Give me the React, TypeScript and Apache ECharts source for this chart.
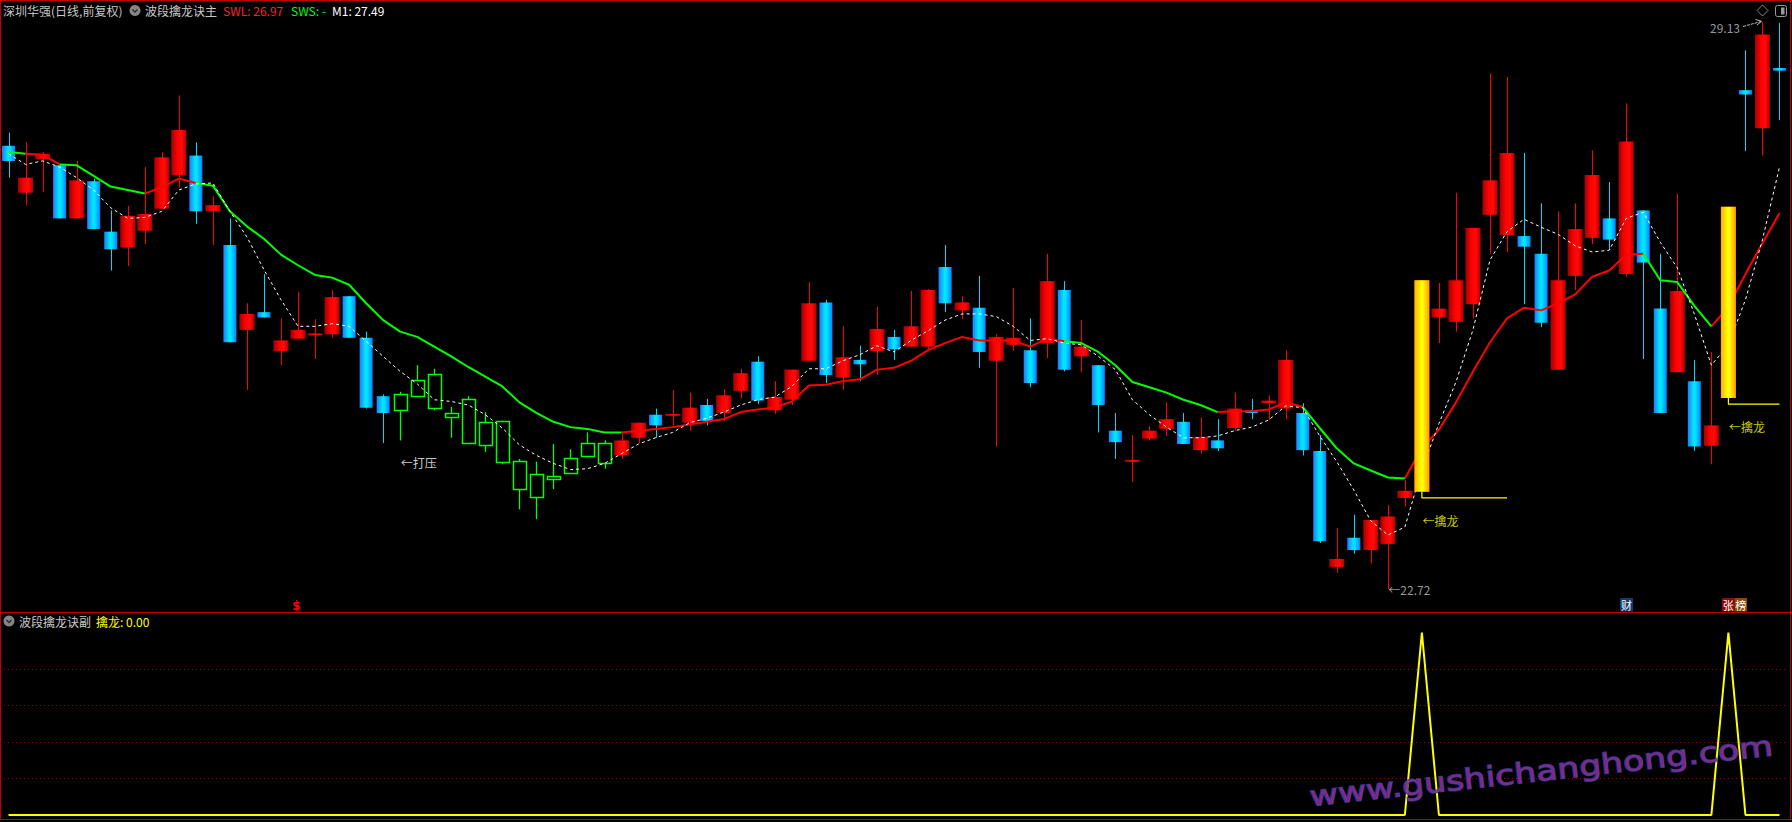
import React, { useEffect, useRef } from "react";
import * as echarts from "echarts";

// ---------- data ----------
const opens = [
  27.73, 27.2, 27.58, 27.51, 26.91, 27.33, 26.76, 26.58, 26.77, 27.02,
  27.4, 27.62, 26.99, 26.61, 25.65, 25.85, 25.41, 25.55, 25.59, 25.6,
  26.03, 25.56, 24.9, 24.74, 24.9, 24.77, 24.66, 24.37, 24.35, 24.16,
  23.85, 23.76, 23.97, 24.03, 24.22, 24.14, 24.23, 24.43, 24.69, 24.68,
  24.6, 24.8, 24.71, 24.96, 25.29, 24.74, 24.86, 25.3, 25.96, 25.11,
  25.31, 25.41, 25.57, 25.46, 25.46, 26.36, 25.87, 25.9, 25.3, 25.48,
  25.42, 25.5, 26.1, 25.35, 25.25, 24.51, 24.16, 24.42, 24.53, 24.61,
  24.29, 24.4, 24.54, 24.74, 24.82, 24.76, 24.71, 24.28, 22.97, 23.3,
  23.16, 23.23, 23.75, 23.82, 25.79, 25.74, 25.94, 26.95, 26.72, 26.71,
  26.51, 25.2, 26.26, 26.69, 26.91, 26.28, 27.0, 25.89, 25.17, 25.07,
  24.34, 24.88, 28.36, 27.93, 28.61,
];
const closes = [
  27.56, 27.37, 27.64, 26.91, 27.34, 26.79, 26.56, 26.94, 26.96, 27.6,
  27.91, 26.99, 27.06, 25.51, 25.83, 25.79, 25.53, 25.65, 25.61, 26.02,
  25.56, 24.77, 24.71, 24.92, 25.08, 25.15, 24.71, 24.87, 24.61, 24.62,
  24.17, 24.02, 24.0, 24.2, 24.37, 24.37, 24.4, 24.6, 24.57, 24.7,
  24.77, 24.62, 24.91, 25.16, 24.85, 24.89, 25.2, 25.95, 25.14, 25.34,
  25.26, 25.66, 25.43, 25.69, 26.1, 25.95, 25.96, 25.4, 25.57, 25.56,
  25.05, 26.2, 25.2, 25.46, 24.8, 24.38, 24.18, 24.51, 24.64, 24.36,
  24.44, 24.31, 24.76, 24.71, 24.85, 25.31, 24.29, 23.26, 23.06, 23.16,
  23.5, 23.54, 23.83, 26.21, 25.89, 26.21, 26.8, 27.34, 27.65, 26.59,
  25.73, 26.21, 26.79, 27.4, 26.67, 27.78, 26.41, 24.71, 26.09, 24.33,
  24.57, 27.04, 28.31, 28.99, 28.58,
];
const lows = [
  27.37, 27.06, 27.21, 26.91, 26.91, 26.79, 26.32, 26.37, 26.62, 27.02,
  27.26, 26.85, 26.61, 25.51, 24.97, 25.79, 25.25, 25.55, 25.32, 25.56,
  25.56, 24.76, 24.37, 24.4, 24.9, 24.74, 24.43, 24.37, 24.27, 24.13,
  23.62, 23.51, 23.85, 24.03, 24.22, 24.08, 24.19, 24.37, 24.43, 24.57,
  24.51, 24.57, 24.62, 24.87, 24.81, 24.7, 24.8, 25.3, 25.05, 24.97,
  25.07, 25.14, 25.31, 25.46, 25.43, 25.85, 25.77, 25.22, 24.33, 25.41,
  25.0, 25.33, 25.18, 25.17, 24.49, 24.19, 23.93, 24.4, 24.45, 24.36,
  24.25, 24.28, 24.51, 24.64, 24.63, 24.64, 24.23, 23.24, 22.9, 23.12,
  23.01, 22.72, 23.65, 23.82, 25.5, 25.63, 25.78, 26.51, 26.53, 25.94,
  25.68, 25.2, 26.1, 26.62, 26.55, 26.25, 25.32, 24.71, 25.17, 24.28,
  24.13, 24.88, 27.67, 27.62, 28.02,
];
const highs = [
  27.88, 27.77, 27.66, 27.51, 27.56, 27.36, 27.0, 27.05, 27.49, 27.66,
  28.3, 27.77, 27.16, 26.91, 25.95, 26.28, 25.78, 26.08, 25.77, 26.1,
  26.03, 25.63, 24.92, 24.95, 25.25, 25.21, 24.78, 24.9, 24.72, 24.62,
  24.19, 24.16, 24.36, 24.3, 24.49, 24.4, 24.49, 24.6, 24.76, 24.97,
  24.94, 24.87, 24.98, 25.21, 25.35, 25.07, 25.2, 26.19, 25.99, 25.69,
  25.47, 25.91, 25.65, 26.09, 26.11, 26.61, 26.03, 26.26, 25.6, 26.12,
  25.78, 26.51, 26.2, 25.76, 25.25, 24.71, 24.46, 24.56, 24.83, 24.71,
  24.66, 24.64, 24.94, 24.87, 24.91, 25.42, 24.82, 24.46, 23.41, 23.56,
  23.5, 23.67, 23.95, 26.21, 26.18, 27.2, 26.8, 28.55, 28.51, 27.65,
  27.08, 26.99, 27.08, 27.68, 27.32, 28.21, 27.0, 26.51, 27.19, 25.31,
  25.4, 27.04, 28.81, 29.13, 29.12,
];
// wave line (SWL when rising, SWS when falling)
const waveLine = [
  27.66, 27.64, 27.63, 27.52, 27.51, 27.39, 27.27, 27.23, 27.19, 27.26,
  27.36, 27.31, 27.28, 26.99, 26.82, 26.68, 26.5, 26.38, 26.27, 26.24,
  26.16, 25.95, 25.76, 25.63, 25.57, 25.46, 25.35, 25.23, 25.12, 25.01,
  24.83, 24.71, 24.61, 24.55, 24.53, 24.49, 24.49, 24.51, 24.53, 24.55,
  24.58, 24.61, 24.64, 24.72, 24.75, 24.77, 24.84, 25.02, 25.03, 25.07,
  25.09, 25.2, 25.22, 25.3, 25.42, 25.5, 25.57, 25.53, 25.53, 25.53,
  25.46, 25.55, 25.52, 25.5, 25.4, 25.25, 25.06, 25.0, 24.94, 24.86,
  24.8, 24.72, 24.73, 24.73, 24.75, 24.83, 24.78, 24.54, 24.31, 24.14,
  24.06, 23.98, 23.97, 24.31, 24.52, 24.83, 25.18, 25.51, 25.78, 25.9,
  25.87, 25.95, 26.05, 26.25, 26.32, 26.5, 26.51, 26.21, 26.19, 25.92,
  25.69, 25.91, 26.28, 26.63, 26.97,
];
const upRanges = [[1, 3], [8, 11], [36, 62], [71, 76], [82, 96], [100, 104]];
const downRanges = [[0, 1], [3, 8], [11, 36], [62, 71], [76, 82], [96, 100]];
const m1Line = [
  27.64, 27.52, 27.56, 27.49, 27.37, 27.23, 27.03, 26.91, 26.92, 26.99,
  27.23, 27.3, 27.31, 26.99, 26.7, 26.33, 25.99, 25.69, 25.69, 25.72,
  25.69, 25.52, 25.35, 25.18, 25.04, 24.86, 24.84, 24.8, 24.69, 24.54,
  24.35, 24.23, 24.14, 24.07, 24.08, 24.14, 24.25, 24.36, 24.43, 24.49,
  24.6, 24.65, 24.72, 24.8, 24.86, 24.89, 25.01, 25.21, 25.21, 25.3,
  25.37, 25.47, 25.4, 25.53, 25.64, 25.76, 25.83, 25.83, 25.8, 25.69,
  25.53, 25.55, 25.5, 25.48, 25.35, 25.2, 24.86, 24.69, 24.55, 24.43,
  24.43, 24.45, 24.51, 24.55, 24.63, 24.79, 24.77, 24.45, 24.16, 23.84,
  23.49, 23.33, 23.42, 24.07, 24.59, 25.06, 25.65, 26.44, 26.76, 26.9,
  26.81, 26.73, 26.6, 26.53, 26.55, 26.91, 26.98, 26.64, 26.35, 25.83,
  25.25, 25.48, 25.99, 26.67, 27.49,
];
const pressRange = [23, 35]; // "打压" bars
const signalIdx = [83, 101]; // "擒龙" signal bars
const signalLevel = [23.75, 24.81];
const signalSpan = 5;
const subTicks = [0, 0.2, 0.4, 0.6, 0.8, 1];

const N = opens.length;
const FONT = '"Noto Sans CJK SC", "Noto Sans", sans-serif';
const BORDER = "#c00000";

const inRanges = (i: number, rs: number[][]) => rs.some(([a, b]) => i >= a && i <= b);

const grad = (stops: [number, string][]) =>
  new echarts.graphic.LinearGradient(0, 0, 1, 0, stops.map(([offset, color]) => ({ offset, color })));

function renderCandle(params: any, api: any) {
  const i = api.value(0);
  const o = api.value(1), c = api.value(2), l = api.value(3), h = api.value(4), k = api.value(5);
  const po = api.coord([i, o]);
  const x = po[0];
  const yo = po[1];
  const yc = api.coord([i, c])[1];
  const yl = api.coord([i, l])[1];
  const yh = api.coord([i, h])[1];
  const top = Math.min(yo, yc);
  const bot = Math.max(yo, yc);
  const hgt = Math.max(bot - top, 2);
  const xw = Math.round(x) + 0.5;
  const ch: any[] = [];
  if (k === 2) {
    const w = 13;
    const rt = Math.round(top) + 0.5;
    const rh = Math.max(Math.round(hgt), 2);
    ch.push({ type: "line", shape: { x1: xw, y1: yh, x2: xw, y2: rt }, style: { stroke: "#00ff00", lineWidth: 1.3 } });
    ch.push({ type: "line", shape: { x1: xw, y1: rt + rh, x2: xw, y2: yl }, style: { stroke: "#00ff00", lineWidth: 1.3 } });
    ch.push({
      type: "rect",
      shape: { x: Math.round(x - w / 2) + 0.5, y: rt, width: w, height: rh },
      style: { fill: "none", stroke: "#00ff00", lineWidth: 1.5 },
    });
  } else {
    const up = k === 0;
    const w = up ? 15 : 13;
    ch.push({
      type: "line",
      shape: { x1: xw, y1: yh, x2: xw, y2: yl },
      style: { stroke: up ? "#ff0000" : "#00d8ff", lineWidth: 1 },
    });
    ch.push({
      type: "rect",
      shape: { x: x - w / 2, y: top, width: w, height: hgt },
      style: {
        fill: up
          ? grad([[0, "#a00000"], [0.4, "#ff0000"], [0.7, "#ff0a0a"], [1, "#b00000"]])
          : grad([[0, "#1a7cff"], [0.45, "#00e8ff"], [0.6, "#00e0ff"], [1, "#0a80ff"]]),
      },
    });
  }
  return { type: "group", children: ch };
}

function renderSignal(params: any, api: any) {
  const i = api.value(0);
  const p1 = api.coord([i, api.value(1)]);
  const p2 = api.coord([i, api.value(2)]);
  const w = 15;
  return {
    type: "rect",
    shape: { x: p1[0] - w / 2, y: Math.min(p1[1], p2[1]), width: w, height: Math.abs(p1[1] - p2[1]) },
    style: { fill: grad([[0, "#ffae00"], [0.45, "#ffff00"], [0.55, "#ffff10"], [1, "#ff9c00"]]) },
  };
}

function txt(text: string, x: number, y: number, fill: string, size = 12, extra: any = {}) {
  return {
    type: "text",
    x,
    y,
    silent: true,
    style: {
      text,
      fill,
      fontSize: size,
      fontFamily: FONT,
      textAlign: "left",
      align: "left",
      textVerticalAlign: "middle",
      verticalAlign: "middle",
      ...extra,
    },
  };
}

function hline(y: number) {
  return { type: "line", silent: true, shape: { x1: 0, y1: y, x2: 1792, y2: y }, style: { stroke: BORDER, lineWidth: 1 } };
}
function vline(x: number) {
  return { type: "line", silent: true, shape: { x1: x, y1: 0, x2: x, y2: 820 }, style: { stroke: BORDER, lineWidth: 1 } };
}
function dropIcon(cx: number, cy: number) {
  return [
    { type: "circle", silent: true, shape: { cx, cy, r: 5.5 }, style: { fill: "#858585" } },
    {
      type: "polyline",
      silent: true,
      shape: { points: [[cx - 2.5, cy - 1], [cx, cy + 1.5], [cx + 2.5, cy - 1]] },
      style: { stroke: "#2a2a2a", lineWidth: 1.3, fill: "none" },
    },
  ];
}

function buildOption() {
  const idx = Array.from({ length: N }, (_, i) => i);
  const cats = idx.map((i) => String(i));
  const swl = waveLine.map((v, i) => (inRanges(i, upRanges) ? v : null));
  const sws = waveLine.map((v, i) => (inRanges(i, downRanges) ? v : null));
  const qinlong = idx.map((i) => (signalIdx.includes(i) ? 1 : 0));
  const candleData = idx.map((i) => {
    const kind = i >= pressRange[0] && i <= pressRange[1] ? 2 : closes[i] >= opens[i] ? 0 : 1;
    return [i, opens[i], closes[i], lows[i], highs[i], kind];
  });
  const signalData = signalIdx.map((s) => [s, opens[s], closes[s]]);
  const hiIdx = highs.indexOf(Math.max(...highs));
  const loIdx = lows.indexOf(Math.min(...lows));
  const last = N - 1;

  const labelSeries = (data: any[], text: string | ((p: any) => string), color: string, pos: any = "right", extra: any = {}) => ({
    type: "scatter",
    xAxisIndex: 0,
    yAxisIndex: 0,
    data,
    symbolSize: 1,
    itemStyle: { color: "rgba(0,0,0,0)" },
    silent: true,
    z: 8,
    label: {
      show: true,
      position: pos,
      distance: 0,
      formatter: text,
      color,
      fontSize: 12,
      fontFamily: FONT,
      ...extra,
    },
  });

  const graphic: any[] = [
    hline(0.5),
    hline(612.5),
    hline(819.5),
    vline(0.5),
    vline(1790.5),
    // title row
    txt("深圳华强(日线,前复权)", 3, 10.5, "#c8c8c8"),
    ...dropIcon(135, 10.5),
    txt("波段擒龙诀主", 145, 10.5, "#c8c8c8"),
    txt(`SWL: ${(swl[last] as number).toFixed(2)}`, 223, 10.5, "#ff2020"),
    txt(`SWS: ${sws[last] == null ? "-" : (sws[last] as number).toFixed(2)}`, 291, 10.5, "#00ff00"),
    txt(`M1: ${m1Line[last].toFixed(2)}`, 332, 10.5, "#ffffff"),
    // top-right icons
    {
      type: "polygon",
      silent: true,
      shape: { points: [[1762.5, 5], [1768, 10.5], [1762.5, 16], [1757, 10.5]] },
      style: { fill: "none", stroke: "#8a8a8a", lineWidth: 1 },
    },
    { type: "rect", silent: true, shape: { x: 1775.5, y: 5.5, width: 11, height: 11, r: 2 }, style: { fill: "none", stroke: "#9a9a9a", lineWidth: 1 } },
    { type: "rect", silent: true, shape: { x: 1781, y: 7.5, width: 3.5, height: 7 }, style: { fill: "#9a9a9a" } },
    // arrow to the high
    {
      type: "polyline",
      silent: true,
      shape: { points: [[1743, 26.5], [1761, 21.5]] },
      style: { stroke: "#c0c0c0", lineWidth: 1, fill: "none", lineDash: [3, 1] },
    },
    {
      type: "polyline",
      silent: true,
      shape: { points: [[1755.5, 19.5], [1761.5, 21.3], [1757, 25]] },
      style: { stroke: "#c0c0c0", lineWidth: 1, fill: "none" },
    },
    // sub pane header
    ...dropIcon(9, 621),
    txt("波段擒龙诀副", 19, 621, "#c8c8c8"),
    txt(`擒龙: ${qinlong[last].toFixed(2)}`, 96, 621, "#ffff00"),
    // bottom markers
    txt("$", 296.5, 605.5, "#ff0000", 12, { fontWeight: "bold", textAlign: "center", align: "center", fontFamily: "DejaVu Sans" }),
    { type: "rect", silent: true, shape: { x: 1620, y: 598, width: 13, height: 13.5 }, style: { fill: "#0e3c70" } },
    txt("财", 1626.5, 605, "#ffffff", 11, { textAlign: "center", align: "center" }),
    { type: "rect", silent: true, shape: { x: 1722, y: 598, width: 12.5, height: 13.5 }, style: { fill: "#8c0a0a" } },
    { type: "rect", silent: true, shape: { x: 1734.5, y: 598, width: 12.5, height: 13.5 }, style: { fill: "#8a4a0e" } },
    txt("张", 1728.3, 605, "#ffffff", 11, { textAlign: "center", align: "center" }),
    txt("榜", 1740.8, 605, "#ffffff", 11, { textAlign: "center", align: "center" }),
    // watermark
    {
      type: "text",
      silent: true,
      x: 1541,
      y: 771,
      rotation: 0.11,
      scaleX: 1.24,
      z: 100,
      style: {
        text: "www.gushichanghong.com",
        fill: "rgba(140,45,150,0.9)",
        stroke: "rgba(45,60,150,0.9)",
        lineWidth: 1.5,
        fontSize: 28,
        fontFamily: "DejaVu Sans",
        textAlign: "center",
        align: "center",
        textVerticalAlign: "middle",
        verticalAlign: "middle",
      },
    },
  ];

  return {
    animation: false,
    backgroundColor: "#000000",
    graphic,
    grid: [
      { left: 0, right: 4, top: 22, height: 567 },
      { left: 0, right: 4, top: 632.5, height: 182.5 },
    ],
    xAxis: [
      { type: "category", gridIndex: 0, data: cats, boundaryGap: true, show: false },
      { type: "category", gridIndex: 1, data: cats, boundaryGap: true, show: false },
    ],
    yAxis: [
      { type: "value", gridIndex: 0, min: 22.72, max: 29.13, show: false, scale: true },
      {
        type: "value",
        gridIndex: 1,
        min: subTicks[0],
        max: subTicks[subTicks.length - 1],
        interval: subTicks[1] - subTicks[0],
        axisLine: { show: false },
        axisTick: { show: false },
        axisLabel: { show: false },
        splitLine: {
          show: true,
          showMinLine: false,
          showMaxLine: false,
          lineStyle: { color: "#a00000", width: 1, type: [1, 3] },
        },
      },
    ],
    series: [
      {
        type: "custom",
        name: "K",
        xAxisIndex: 0,
        yAxisIndex: 0,
        data: candleData,
        encode: { x: 0, y: [1, 2, 3, 4] },
        renderItem: renderCandle,
        silent: true,
        z: 1,
      },
      {
        type: "line",
        name: "SWL",
        xAxisIndex: 0,
        yAxisIndex: 0,
        data: swl,
        symbol: "none",
        connectNulls: false,
        lineStyle: { color: "#ff0000", width: 2 },
        silent: true,
        z: 3,
      },
      {
        type: "line",
        name: "SWS",
        xAxisIndex: 0,
        yAxisIndex: 0,
        data: sws,
        symbol: "none",
        connectNulls: false,
        lineStyle: { color: "#00ff00", width: 2 },
        silent: true,
        z: 3,
      },
      {
        type: "line",
        name: "M1",
        xAxisIndex: 0,
        yAxisIndex: 0,
        data: m1Line,
        symbol: "none",
        lineStyle: { color: "#ffffff", width: 1, type: [3, 3] },
        silent: true,
        z: 3,
      },
      {
        type: "custom",
        name: "signal",
        xAxisIndex: 0,
        yAxisIndex: 0,
        data: signalData,
        encode: { x: 0, y: [1, 2] },
        renderItem: renderSignal,
        silent: true,
        z: 5,
      },
      ...signalIdx.map((s, k) => ({
        type: "line",
        xAxisIndex: 0,
        yAxisIndex: 0,
        data: [
          [s, opens[s]],
          [s, signalLevel[k]],
          [Math.min(s + signalSpan, N - 1), signalLevel[k]],
        ],
        symbol: "none",
        lineStyle: { color: "#ffff00", width: 1.2 },
        silent: true,
        z: 5,
      })),
      labelSeries(signalIdx.map((s, k) => [s, signalLevel[k] - 0.25]), "←擒龙", "#ffff00"),
      labelSeries([[pressRange[0], lows[pressRange[0]] - 0.25]], "←打压", "#ffffff"),
      labelSeries([[loIdx, lows[loIdx]]], (p: any) => "←" + p.value[1].toFixed(2), "#c0c0c0"),
      labelSeries([[hiIdx, highs[hiIdx]]], (p: any) => p.value[1].toFixed(2), "#c0c0c0", "left", {
        distance: 22,
        offset: [0, 5],
      }),
      {
        type: "line",
        name: "擒龙",
        xAxisIndex: 1,
        yAxisIndex: 1,
        data: qinlong,
        symbol: "none",
        clip: false,
        lineStyle: { color: "#ffff00", width: 2 },
        silent: true,
        z: 3,
      },
    ],
  };
}

export default function App() {
  const ref = useRef<HTMLDivElement>(null);
  useEffect(() => {
    document.body.style.margin = "0";
    document.body.style.background = "#000";
    const chart = echarts.init(ref.current as HTMLDivElement, null, { renderer: "svg" });
    chart.setOption(buildOption() as any);
    return () => chart.dispose();
  }, []);
  return <div ref={ref} style={{ width: 1792, height: 822, background: "#000" }} />;
}
